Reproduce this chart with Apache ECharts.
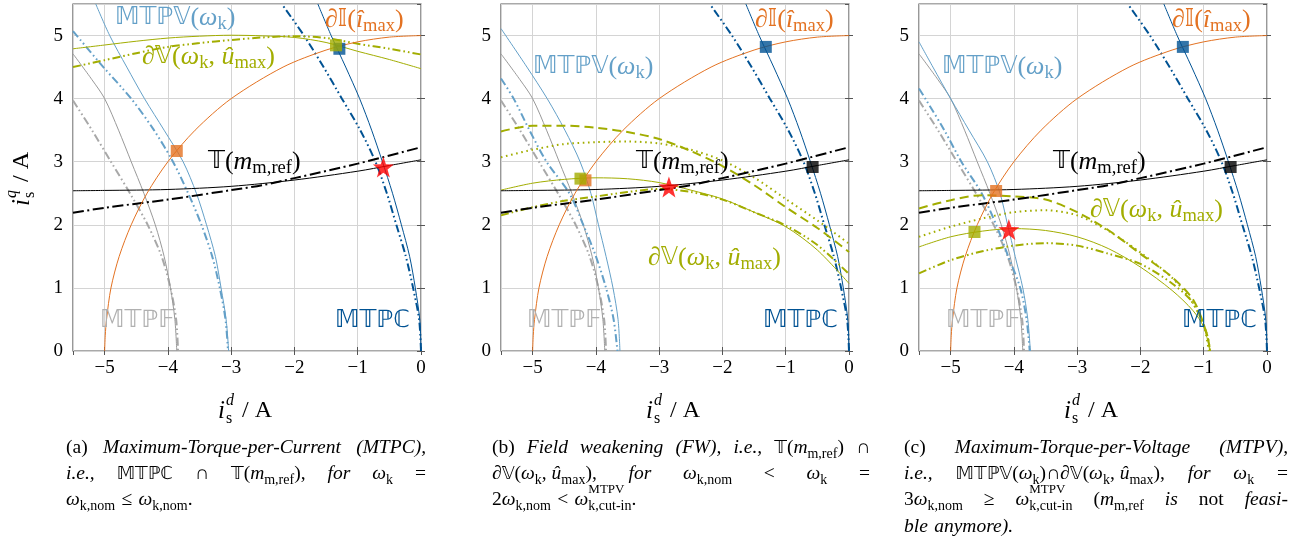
<!DOCTYPE html>
<html><head><meta charset="utf-8">
<script src="https://cdn.jsdelivr.net/npm/echarts@6/dist/echarts.min.js"></script>
<style>html,body{margin:0;padding:0;background:#fff}#c{width:1290px;height:543px}</style>
</head><body><div id="c"></div>
<script>
// ---------------- data ----------------
const xTicks = [-5, -4, -3, -2, -1, 0];
const yTicks = [0, 1, 2, 3, 4, 5];

const currentLimit = [[-5,0],[-4.99,0.25],[-4.97,0.5],[-4.9,1],[-4.77,1.5],[-4.58,2],[-4.33,2.5],[-4,3],[-3.57,3.5],[-3,4],[-2.18,4.5],[-1.5,4.77],[-1,4.9],[-0.5,4.975],[0,5]];

const mtpcSolid = [[0,0],[-0.02,0.5],[-0.09,1],[-0.18,1.5],[-0.31,2],[-0.45,2.5],[-0.61,3],[-0.78,3.5],[-0.97,4],[-1.19,4.5],[-1.42,5],[-1.63,5.5]];
const mtpcAlt   = [[0,0],[-0.03,0.5],[-0.125,1],[-0.24,1.5],[-0.39,2],[-0.54,2.5],[-0.72,3],[-0.96,3.5],[-1.25,4],[-1.54,4.5],[-1.85,5],[-2.2,5.5]];

const mtpfSolid = [[-5.5,4.71],[-5.2,4.3],[-5.0,4.0],[-4.78,3.5],[-4.58,3.0],[-4.38,2.5],[-4.2,2.0],[-4.06,1.5],[-3.96,1.0],[-3.89,0.5],[-3.86,0]];
const mtpfAlt   = [[-5.5,3.97],[-5.2,3.5],[-4.9,3.0],[-4.6,2.5],[-4.32,2.0],[-4.1,1.5],[-3.96,1.0],[-3.87,0.5],[-3.84,0]];

const mtpvSolidA = [[-5.14,5.5],[-4.92,5.0],[-4.65,4.5],[-4.37,4.0],[-4.06,3.5],[-3.76,3.0],[-3.55,2.5],[-3.39,2.0],[-3.25,1.5],[-3.16,1.0],[-3.08,0.5],[-3.04,0]];
const mtpvAltA   = [[-5.5,5.07],[-5.02,4.5],[-4.58,4.0],[-4.22,3.5],[-3.92,3.0],[-3.68,2.5],[-3.47,2.0],[-3.3,1.5],[-3.18,1.0],[-3.09,0.5],[-3.05,0]];
const mtpvSolidB = [[-5.5,5.11],[-5.09,4.5],[-4.77,4.0],[-4.49,3.5],[-4.25,3.0],[-4.08,2.5],[-3.96,2.0],[-3.84,1.5],[-3.73,1.0],[-3.65,0.5],[-3.62,0]];
const mtpvAltB   = [[-5.5,4.32],[-5.3,4.0],[-5.05,3.5],[-4.78,3.0],[-4.42,2.5],[-4.2,2.0],[-4.0,1.5],[-3.84,1.0],[-3.72,0.5],[-3.66,0]];
const mtpvSolidC = [[-5.5,4.9],[-5.28,4.5],[-5.0,4.0],[-4.71,3.5],[-4.42,3.0],[-4.22,2.5],[-4.1,2.0],[-3.98,1.5],[-3.86,1.0],[-3.78,0.5],[-3.74,0]];
const mtpvAltC   = [[-5.5,4.16],[-5.4,4.0],[-5.1,3.5],[-4.83,3.0],[-4.51,2.5],[-4.28,2.0],[-4.09,1.5],[-3.9,1.0],[-3.8,0.5],[-3.75,0]];

const torqueSolid = [[-5.5,2.54],[-5,2.545],[-4,2.56],[-3,2.61],[-2,2.71],[-1,2.85],[-0.5,2.94],[0,3.03]];
const torqueAlt   = [[-5.5,2.19],[-5,2.27],[-4,2.40],[-3,2.55],[-2.5,2.63],[-2,2.74],[-1,2.97],[0,3.23]];

const voltSolidA = [[-5.5,4.79],[-5,4.85],[-4.5,4.91],[-4,4.96],[-3.5,4.99],[-3,5.005],[-2.5,4.995],[-2,4.97],[-1.5,4.89],[-1,4.75],[-0.5,4.62],[0,4.475]];
const voltAltA   = [[-5.5,4.5],[-5,4.61],[-4.5,4.72],[-4,4.82],[-3.5,4.88],[-3,4.93],[-2.5,4.97],[-2,4.99],[-1.5,4.96],[-1,4.87],[-0.5,4.79],[0,4.7]];

const voltSolidB  = [[-5.5,2.55],[-5,2.66],[-4.5,2.72],[-4,2.745],[-3.5,2.73],[-3,2.67],[-2.5,2.55],[-2,2.41],[-1.5,2.2],[-1,1.97],[-0.5,1.6],[0,1.07]];
const voltDashedB = [[-5.5,3.48],[-5,3.57],[-4.5,3.57],[-4,3.54],[-3.5,3.47],[-3,3.36],[-2.5,3.17],[-2,2.93],[-1.5,2.63],[-1,2.28],[-0.5,1.95],[0,1.57]];
const voltDottedB = [[-5.5,3.07],[-5,3.19],[-4.5,3.28],[-4,3.31],[-3.5,3.32],[-3,3.29],[-2.5,3.19],[-2,3.02],[-1.5,2.75],[-1,2.41],[-0.5,2.07],[0,1.7]];
const voltAltB    = [[-5.5,2.15],[-5,2.28],[-4.5,2.38],[-4,2.45],[-3.5,2.52],[-3,2.57],[-2.5,2.52],[-2,2.40],[-1.5,2.2],[-1,1.99],[-0.5,1.68],[0,1.22]];

const voltSolidC  = [[-5.5,1.65],[-5,1.81],[-4.5,1.9],[-4,1.94],[-3.5,1.91],[-3,1.81],[-2.5,1.62],[-2,1.33],[-1.5,0.96],[-1.17,0.64],[-1,0.38],[-0.9,0]];
const voltDashedC = [[-5.5,2.26],[-5,2.39],[-4.5,2.47],[-4,2.45],[-3.5,2.4],[-3,2.2],[-2.5,1.91],[-2,1.54],[-1.5,1.17],[-1.16,0.8],[-0.95,0.27],[-0.9,0]];
const voltDottedC = [[-5.5,1.81],[-5,1.97],[-4.5,2.1],[-4,2.2],[-3.5,2.23],[-3,2.15],[-2.5,1.9],[-2,1.56],[-1.5,1.16],[-1.2,0.8],[-1,0.4],[-0.92,0]];
const voltAltC    = [[-5.5,1.23],[-5,1.44],[-4.5,1.58],[-4,1.67],[-3.5,1.71],[-3,1.67],[-2.5,1.54],[-2,1.38],[-1.5,1.07],[-1.16,0.75],[-0.95,0.27],[-0.9,0]];

// intersection markers, one entry per sub-figure (a, b, c)
const ptsMtpvImax  = [[-3.86,3.17],[-4.165,2.705],[-4.281,2.536]];
const ptsVoltImax  = [[-1.343,4.845],[-4.244,2.732],[-4.623,1.886]];
const ptsMtpcImax  = [[-1.29,4.79],[-1.315,4.82],[-1.33,4.82]];
const ptsMtpcRef   = [null,[-0.575,2.916],[-0.575,2.916]];
const ptsOperating = [[-0.595,2.916],[-2.846,2.60],[-4.08,1.924]];

// ---------------- styling / layout ----------------
const SERIF = "'Liberation Serif','DejaVu Serif',serif";
const DBF = "'DejaVu Sans','DejaVu Serif',sans-serif";
const C_OR = '#E37222', C_GR = '#A2AD00', C_LB = '#64A0C8', C_DB = '#005293', C_GY = '#999999', C_GY2 = '#A8A8A8';
const DDD = [8, 3, 1.6, 3, 1.6, 3];
const DD = [11, 3.5, 2, 3.5];
const LEFTS = [73, 501, 919], TOP = 4, GW = 348, GH = 347;

const mtpvSolid = [mtpvSolidA, mtpvSolidB, mtpvSolidC];
const mtpvAlt = [mtpvAltA, mtpvAltB, mtpvAltC];
const volts = [
  [[voltSolidA,'solid',1],[voltAltA,DDD,2]],
  [[voltSolidB,'solid',1],[voltDashedB,[9,5],2],[voltDottedB,[1.6,3.6],2],[voltAltB,DDD,2]],
  [[voltSolidC,'solid',1],[voltDashedC,[9,5],2],[voltDottedC,[1.6,3.6],2],[voltAltC,DDD,2]]
];

const minus = v => (v < 0 ? '\u2212' + Math.abs(v) : String(v));
const xAxes = [], yAxes = [], grids = [], series = [];
LEFTS.forEach((l, gi) => {
  grids.push({left: l, top: TOP, width: GW, height: GH, show: true, borderColor: '#555', borderWidth: 1.2, backgroundColor: 'transparent'});
  const tick = {show: true, inside: true, length: 4, lineStyle: {color: '#555', width: 1}};
  xAxes.push({type: 'value', gridIndex: gi, min: -5.5, max: 0, splitNumber: 5, position: 'bottom',
    axisLine: {show: false}, axisTick: tick,
    axisLabel: {margin: 8, fontSize: 19, fontFamily: SERIF, color: '#000', showMinLabel: false,
      formatter: v => (xTicks.includes(v) ? minus(v) : '')},
    splitLine: {show: true, lineStyle: {color: '#d4d4d4', width: 1}}});
  xAxes.push({type: 'value', gridIndex: gi, min: -5.5, max: 0, splitNumber: 5, position: 'top',
    axisLine: {show: false}, axisTick: tick, axisLabel: {show: false}, splitLine: {show: false}});
  yAxes.push({type: 'value', gridIndex: gi, min: 0, max: 5.5, splitNumber: 5, position: 'left',
    axisLine: {show: false}, axisTick: tick,
    axisLabel: {margin: 10, fontSize: 19, fontFamily: SERIF, color: '#000', showMaxLabel: false,
      formatter: v => (yTicks.includes(v) ? String(v) : '')},
    splitLine: {show: true, lineStyle: {color: '#d4d4d4', width: 1}}});
  yAxes.push({type: 'value', gridIndex: gi, min: 0, max: 5.5, splitNumber: 5, position: 'right',
    axisLine: {show: false}, axisTick: tick, axisLabel: {show: false}, splitLine: {show: false}});

  const ax = {xAxisIndex: gi * 2, yAxisIndex: gi * 2};
  const line = (data, color, width, type) => series.push(Object.assign({
    type: 'line', data, symbol: 'none', smooth: 0.3, silent: true, clip: true,
    lineStyle: {color, width, type, cap: 'butt'}, z: 2}, ax));
  line(mtpfAlt, C_GY2, 2, DDD);
  line(mtpfSolid, C_GY, 1, 'solid');
  line(mtpvAlt[gi], C_LB, 2, DDD);
  line(mtpvSolid[gi], C_LB, 1, 'solid');
  line(mtpcAlt, C_DB, 2, DDD);
  line(mtpcSolid, C_DB, 1, 'solid');
  volts[gi].forEach(([d, t, w]) => line(d, C_GR, w, t));
  line(torqueAlt, '#000', 2, DD);
  line(torqueSolid, '#000', 1, 'solid');
  line(currentLimit, C_OR, 1, 'solid');

  const mark = (pt, color, sym, size) => { if (pt) series.push(Object.assign({
    type: 'scatter', data: [pt], symbol: sym, symbolSize: size, silent: true,
    itemStyle: {color}, z: 5}, ax)); };
  const STAR = 'path://M0,-10L2.35,-3.24L9.51,-3.09L3.8,1.24L5.88,8.09L0,4L-5.88,8.09L-3.8,1.24L-9.51,-3.09L-2.35,-3.24Z';
  mark(ptsMtpcImax[gi], C_DB, 'rect', 12);
  mark(ptsMtpcRef[gi], '#000', 'rect', 12);
  mark(ptsMtpvImax[gi], C_OR, 'rect', 12);
  mark(ptsVoltImax[gi], C_GR, 'rect', 12);
  mark(ptsOperating[gi], '#ff0000', STAR, 21);
});

// ---------------- text helpers ----------------
const mctx = document.createElement('canvas').getContext('2d');
function fontOf(st, fs, sfs) {
  if (st === 'i') return 'italic ' + fs + 'px ' + SERIF;
  if (st === 'd') return (fs * 0.92) + 'px ' + DBF;
  if (st === 's') return sfs + 'px ' + SERIF;
  return fs + 'px ' + SERIF;
}
function tw(st, txt, fs, sfs) { mctx.font = fontOf(st, fs, sfs); return mctx.measureText(txt).width; }
function richOf(color, fs, sfs, lh) {
  const sublh = Math.max(4, lh - 2 * 0.33 * fs);
  return {
    r: {fill: color, fontFamily: SERIF, fontSize: fs, lineHeight: lh},
    i: {fill: color, fontFamily: SERIF, fontStyle: 'italic', fontSize: fs, lineHeight: lh},
    d: {fill: color, fontFamily: DBF, fontSize: fs * 0.92, lineHeight: lh},
    s: {fill: color, fontFamily: SERIF, fontSize: sfs, lineHeight: sublh, verticalAlign: 'bottom'}
  };
}
const esc = t => t.replace(/[{}|]/g, '');
const richStr = toks => toks.map(([s, t]) => '{' + s + '|' + esc(t) + '}').join('');
function textEl(x, y, toks, color, fs, sfs, lh) {
  return {type: 'text', x, y, z: 100, silent: true,
    style: {text: richStr(toks), rich: richOf(color, fs, sfs, lh), align: 'left', verticalAlign: 'middle', fill: color}};
}

// chart labels
const L_MTPV = [['d','𝕄𝕋ℙ𝕍'],['r','('],['i','ω'],['s','k'],['r',')']];
const L_IMAX = [['r','∂'],['d','𝕀'],['r','('],['i','î'],['s','max'],['r',')']];
const L_VOLT = [['r','∂'],['d','𝕍'],['r','('],['i','ω'],['s','k'],['r',', '],['i','û'],['s','max'],['r',')']];
const L_TORQ = [['d','𝕋'],['r','('],['i','m'],['s','m,ref'],['r',')']];
const L_MTPF = [['d','𝕄𝕋ℙ𝔽']];
const L_MTPC = [['d','𝕄𝕋ℙℂ']];
const chartLabels = [
  [L_MTPV, C_LB, 115, 18], [L_IMAX, C_OR, 325, 20], [L_VOLT, C_GR, 142, 57], [L_TORQ, '#000', 208, 162], [L_MTPF, '#B0B0B0', 100, 321], [L_MTPC, C_DB, 335, 321],
  [L_IMAX, C_OR, 755, 20], [L_MTPV, C_LB, 533, 67], [L_TORQ, '#000', 636, 162], [L_VOLT, C_GR, 648, 258], [L_MTPF, '#B0B0B0', 527, 321], [L_MTPC, C_DB, 763, 321],
  [L_IMAX, C_OR, 1172, 20], [L_MTPV, C_LB, 942, 67], [L_TORQ, '#000', 1053, 162], [L_VOLT, C_GR, 1090, 210], [L_MTPF, '#B0B0B0', 946, 321], [L_MTPC, C_DB, 1182, 321]
];
const graphics = chartLabels.map(([t, c, x, y]) => textEl(x, y, t, c, 26, 18.5, 32));

// axis titles  i_s^d / A  and  i_s^q / A
function symTitle(x, y, sup, rot) {
  const f = (txt, dx, dy, size, ital) => ({type: 'text', x: dx, y: dy, silent: true,
    style: {text: txt, fontFamily: SERIF, fontSize: size, fontStyle: ital ? 'italic' : 'normal', fill: '#000', align: 'left', verticalAlign: 'middle'}});
  return {type: 'group', x, y, rotation: rot, z: 100, silent: true, children: [
    f('i', 0, 0, 25, true), f(sup, 8, -10, 16, true), f('s', 8, 8, 16, false), f('/ A', 24, 0, 24, false)]};
}
LEFTS.forEach(l => graphics.push(symTitle(l + GW / 2 - 29, 411, 'd', 0)));
graphics.push(symTitle(22, 206, 'q', Math.PI / 2));

// captions
const CFS = 19.5, CSF = 14, CLH = 26;
const captions = [
  {x0: 66, x1: 426, lines: [
    {y: 448, j: true, w: [[['r','(a)']], [['i','Maximum-Torque-per-Current']], [['i','(MTPC),']]]},
    {y: 474, j: true, w: [[['i','i.e.,']], [['d','𝕄𝕋ℙℂ']], [['r','∩']], [['d','𝕋'],['r','('],['i','m'],['s','m,ref'],['r','),']], [['i','for']], [['i','ω'],['s','k']], [['r','=']]]},
    {y: 500, j: false, w: [[['i','ω'],['s','k,nom']], [['r','≤']], [['i','ω'],['s','k,nom'],['r','.']]]}
  ]},
  {x0: 492, x1: 870, lines: [
    {y: 448, j: true, w: [[['r','(b)']], [['i','Field']], [['i','weakening']], [['i','(FW),']], [['i','i.e.,']], [['d','𝕋'],['r','('],['i','m'],['s','m,ref'],['r',')']], [['r','∩']]]},
    {y: 474, j: true, w: [[['r','∂'],['d','𝕍'],['r','('],['i','ω'],['s','k'],['r',', '],['i','û'],['s','max'],['r','),']], [['i','for']], [['i','ω'],['s','k,nom']], [['r','<']], [['i','ω'],['s','k']], [['r','=']]]},
    {y: 500, j: false, w: [[['r','2'],['i','ω'],['s','k,nom']], [['r','<']], {t: [['i','ω'],['s','k,cut-in'],['r','.']], sup: 'MTPV'}]}
  ]},
  {x0: 904, x1: 1288, lines: [
    {y: 448, j: true, w: [[['r','(c)']], [['i','Maximum-Torque-per-Voltage']], [['i','(MTPV),']]]},
    {y: 474, j: true, w: [[['i','i.e.,']], [['d','𝕄𝕋ℙ𝕍'],['r','('],['i','ω'],['s','k'],['r',')∩∂'],['d','𝕍'],['r','('],['i','ω'],['s','k'],['r',', '],['i','û'],['s','max'],['r','),']], [['i','for']], [['i','ω'],['s','k']], [['r','=']]]},
    {y: 500, j: true, w: [[['r','3'],['i','ω'],['s','k,nom']], [['r','≥']], {t: [['i','ω'],['s','k,cut-in']], sup: 'MTPV'}, [['r','('],['i','m'],['s','m,ref']], [['i','is']], [['r','not']], [['i','feasi-']]]},
    {y: 527, j: false, w: [[['i','ble']], [['i','anymore).']]]}
  ]}
];
const wordWidth = toks => toks.reduce((a, [s, t]) => a + tw(s, t, CFS, CSF), 0);
captions.forEach(cap => cap.lines.forEach(line => {
  const words = line.w.map(w => Array.isArray(w) ? {t: w} : w);
  const widths = words.map(w => wordWidth(w.t));
  const total = widths.reduce((a, b) => a + b, 0);
  const gap = line.j && words.length > 1 ? (cap.x1 - cap.x0 - total) / (words.length - 1) : tw('r', ' ', CFS, CSF) * 1.3;
  let x = cap.x0;
  words.forEach((w, k) => {
    graphics.push(textEl(x, line.y, w.t, '#000', CFS, CSF, CLH));
    if (w.sup) {
      const sx = x + tw(w.t[0][0], w.t[0][1], CFS, CSF);
      graphics.push({type: 'text', x: sx, y: line.y - 10, z: 100, silent: true,
        style: {text: w.sup, fontFamily: SERIF, fontSize: CSF - 1, fill: '#000', align: 'left', verticalAlign: 'middle'}});
    }
    x += widths[k] + gap;
  });
}));

const chart = echarts.init(document.getElementById('c'), null, {renderer: 'canvas'});
chart.setOption({
  animation: false, backgroundColor: '#fff',
  grid: grids, xAxis: xAxes, yAxis: yAxes, series,
  graphic: {elements: graphics}
});
</script></body></html>
